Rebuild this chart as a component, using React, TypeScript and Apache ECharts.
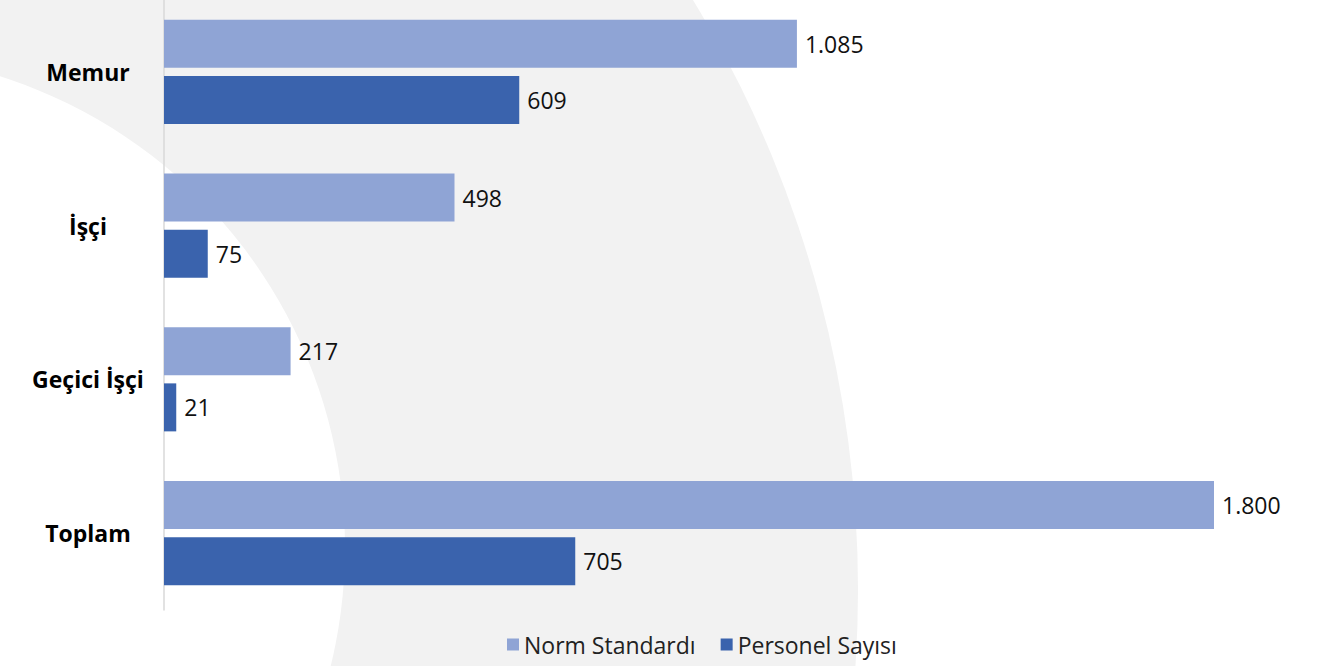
import React, { useEffect, useRef } from "react";
import * as echarts from "echarts";

const categories = ["Memur", "İşçi", "Geçici İşçi", "Toplam"];
const normStandardi = [1085, 498, 217, 1800];
const personelSayisi = [609, 75, 21, 705];
const seriesNames = ["Norm Standardı", "Personel Sayısı"];

const fmt = (v: number) => String(v).replace(/\B(?=(\d{3})+(?!\d))/g, ".");

const SHIFT = 5;

export default function App() {
  const ref = useRef<HTMLDivElement>(null);
  useEffect(() => {
    document.body.style.margin = "0";
    document.body.style.overflow = "hidden";
    if (!ref.current) return;
    const chart = echarts.init(ref.current, null, { renderer: "svg" });
    const font = "'Open Sans', 'Noto Sans', sans-serif";
    const labelStyle = {
      show: true,
      position: "right",
      distance: 8,
      fontFamily: font,
      fontSize: 23,
      color: "#111",
      formatter: (p: any) => fmt(p.value),
    };
    chart.setOption({
      animation: false,
      backgroundColor: "#ffffff",
      textStyle: { fontFamily: font },
      graphic: [
        {
          type: "circle",
          z: -10,
          silent: true,
          shape: { cx: -279, cy: 590 + SHIFT, r: 1137 },
          style: { fill: "#f2f2f2" },
        },
        {
          type: "circle",
          z: -9,
          silent: true,
          shape: { cx: -150, cy: 548 + SHIFT, r: 495 },
          style: { fill: "#ffffff" },
        },
      ],
      grid: { left: 164, top: 0, right: 0, height: 615, containLabel: false },
      legend: {
        data: seriesNames,
        left: 502,
        top: 628 + SHIFT,
        icon: "rect",
        itemWidth: 12,
        itemHeight: 12,
        itemGap: 25,
        textStyle: { fontFamily: font, fontSize: 23, color: "#222" },
      },
      xAxis: {
        type: "value",
        min: 0,
        max: 1992,
        show: false,
        splitLine: { show: false },
      },
      yAxis: {
        type: "category",
        data: categories,
        inverse: true,
        axisLine: { show: true, lineStyle: { color: "#d9d9d9", width: 1.5 } },
        axisTick: { show: false },
        axisLabel: {
          align: "center",
          margin: 76,
          fontFamily: font,
          fontSize: 23,
          fontWeight: "bold",
          color: "#000",
        },
      },
      series: [
        {
          name: seriesNames[0],
          type: "bar",
          data: normStandardi,
          barWidth: 48,
          barGap: "16.67%",
          itemStyle: { color: "#8fa4d5" },
          label: labelStyle,
        },
        {
          name: seriesNames[1],
          type: "bar",
          data: personelSayisi,
          barWidth: 48,
          barGap: "16.67%",
          itemStyle: { color: "#3a63ad" },
          label: labelStyle,
        },
      ],
    });
    return () => chart.dispose();
  }, []);
  return (
    <div
      ref={ref}
      style={{ width: 1326, height: 666 + SHIFT, marginTop: -SHIFT }}
    />
  );
}
